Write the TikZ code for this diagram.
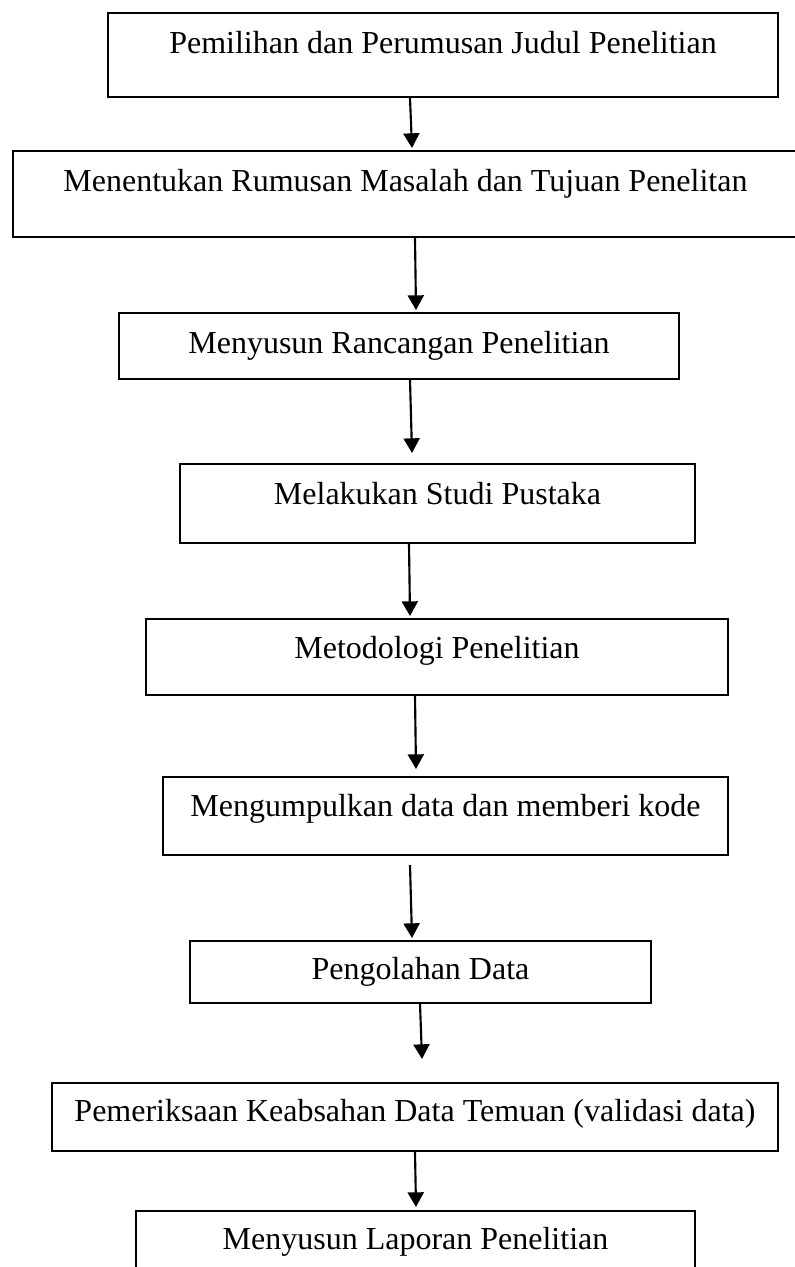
\documentclass[tikz,border=0pt]{standalone}
\usepackage{fontspec}
\setmainfont{Liberation Serif}
\usetikzlibrary{arrows.meta,calc}

\begin{document}
\begin{tikzpicture}[
    x=0.75pt, y=-0.75pt,
    box/.style={draw, line width=1.5pt, inner sep=0pt, anchor=north west,
      font=\fontsize{24}{28}\selectfont},
    arr/.style={line width=1.6pt, -{Triangle[width=12pt,length=11pt]}}
  ]
  \useasboundingbox (0,0) rectangle (795,1267);
  % boxes: left/top/right/bottom/baseline/text
  \foreach \l/\t/\r/\b/\bl/\txt [count=\i] in {
      107/12/777/96/52/{Pemilihan dan Perumusan Judul Penelitian},
      12/150/797/236/190/{Menentukan Rumusan Masalah dan Tujuan Penelitan},
      118/312/678/378/352/{Menyusun Rancangan Penelitian},
      179/463/694/542/503/{Melakukan Studi Pustaka},
      145/618/727/694/657/{Metodologi Penelitian},
      162/776/727/854/815/{Mengumpulkan data dan memberi kode},
      189/940/650/1002/978/{Pengolahan Data},
      51/1082/777/1150/1120/{Pemeriksaan Keabsahan Data Temuan (validasi data)},
      135/1210/694/1280/1248/{Menyusun Laporan Penelitian}} {
    \pgfmathsetmacro\bw{(\r-\l)*0.75}
    \pgfmathsetmacro\bh{(\bl-\t)*0.75}
    \pgfmathsetmacro\bd{(\b-\bl)*0.75}
    \node[box, minimum width=\bw pt, text height=\bh pt, text depth=\bd pt]
      (b\i) at (\l,\t) {\txt};
  }
  % arrows between the boxes
  \foreach \i/\ax/\ay/\bx/\by in {1/-33/0/6.5/-2, 2/9.5/0/17/-2,
      3/11/0/-25.5/-10, 4/-28.5/0/-27/-2, 5/-22/0/-29.5/-7,
      6/-35.5/9/-8.5/-2, 7/-0.5/0/7/-23, 8/0/0/0.5/-3} {
    \pgfmathtruncatemacro\j{\i+1}
    \draw[arr] ($(b\i.south)+(\ax,\ay)$) -- ($(b\j.north)+(\bx,\by)$);
  }
\end{tikzpicture}
\end{document}
